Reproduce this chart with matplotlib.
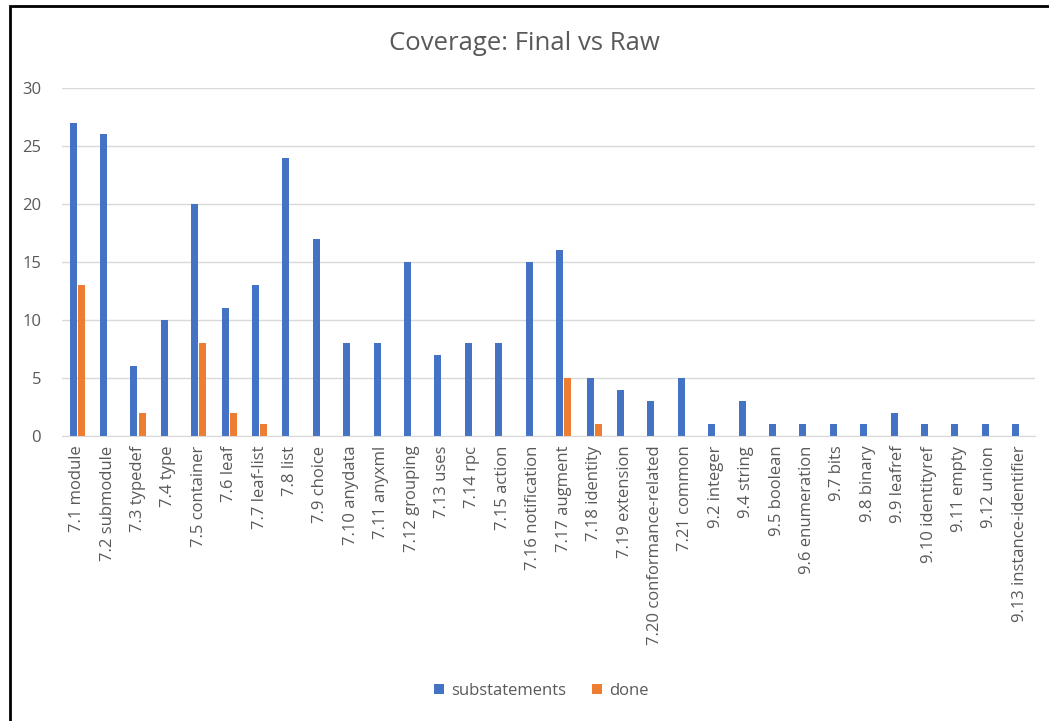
import matplotlib
matplotlib.use("Agg")
from matplotlib import pyplot as plt
from matplotlib.patches import Rectangle
import numpy as np

plt.rcParams['font.family'] = ['Open Sans', 'DejaVu Sans']

categories = ['7.1 module', '7.2 submodule', '7.3 typedef', '7.4 type', '7.5 container',
              '7.6 leaf', '7.7 leaf-list', '7.8 list', '7.9 choice', '7.10 anydata',
              '7.11 anyxml', '7.12 grouping', '7.13 uses', '7.14 rpc', '7.15 action',
              '7.16 notification', '7.17 augment', '7.18 identity', '7.19 extension',
              '7.20 conformance-related', '7.21 common', '9.2 integer', '9.4 string',
              '9.5 boolean', '9.6 enumeration', '9.7 bits', '9.8 binary', '9.9 leafref',
              '9.10 identityref', '9.11 empty', '9.12 union', '9.13 instance-identifier']
substatements = [27, 26, 6, 10, 20, 11, 13, 24, 17, 8, 8, 15, 7, 8, 8, 15, 16, 5, 4, 3,
                 5, 1, 3, 1, 1, 1, 1, 2, 1, 1, 1, 1]
done = [13, 0, 2, 0, 8, 2, 1, 0, 0, 0, 0, 0, 0, 0, 0, 0, 5, 1, 0, 0,
        0, 0, 0, 0, 0, 0, 0, 0, 0, 0, 0, 0]

blue = '#4472C4'
orange = '#ED7D31'
grey = '#595959'

fig = plt.figure(figsize=(10.49, 7.21), dpi=100)
ax = fig.add_axes([62 / 1049, 1 - 436 / 721, (1035 - 62) / 1049, (436 - 88) / 721])

x = np.arange(len(categories))
w = 0.23
ax.bar(x - w / 2 - 0.02, substatements, width=w, color=blue, label='substatements')
ax.bar(x + w / 2 + 0.02, done, width=w, color=orange, label='done')

ax.set_xlim(-0.5, len(categories) - 0.5)
ax.set_ylim(0, 30)
ax.set_yticks(range(0, 31, 5))
ax.set_xticks(x)
ax.set_xticklabels(categories, rotation=90, fontsize=12, color=grey)
ax.tick_params(axis='y', labelsize=12, labelcolor=grey, length=0, pad=15)
ax.tick_params(axis='x', length=0, pad=7)
ax.grid(axis='y', color='#D9D9D9', linewidth=1)
ax.set_axisbelow(True)
for s in ['top', 'right', 'left']:
    ax.spines[s].set_visible(False)
ax.spines['bottom'].set_color('#D9D9D9')

fig.text(0.5, 1 - 44 / 721, 'Coverage: Final vs Raw', ha='center', va='center',
         fontsize=18.5, color=grey)

fig.legend(loc='center', bbox_to_anchor=(0.516, 1 - 691 / 721), ncol=2, frameon=False,
           fontsize=12, labelcolor=grey, handlelength=0.6, handleheight=0.6,
           columnspacing=1.6, handletextpad=0.4)

# black frame on left and top edges
fig.add_artist(Rectangle((9.5 / 1049, -0.1), 1.2, 1.1 - 5.5 / 721, transform=fig.transFigure,
                         fill=False, edgecolor='black', linewidth=2))

plt.savefig('out.png', dpi=100)
